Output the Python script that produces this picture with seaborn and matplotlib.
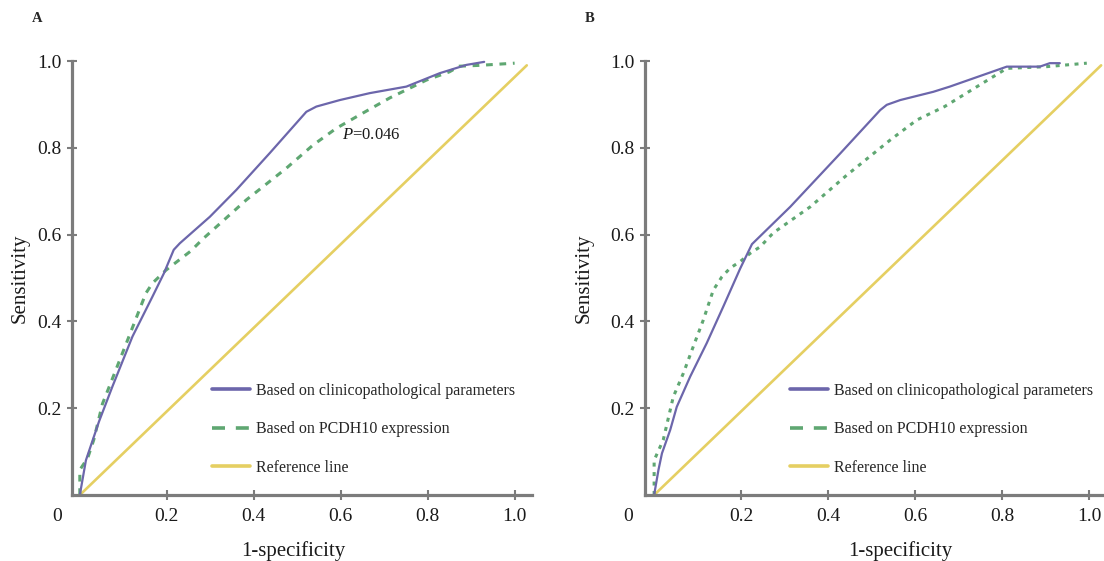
import matplotlib
matplotlib.use("Agg")
import matplotlib.pyplot as plt
from matplotlib.lines import Line2D
import seaborn as sns
import numpy as np

# ---------------- data ----------------
xticks = [0.2, 0.4, 0.6, 0.8, 1.0]
xtick_labels = ["0.2", "0.4", "0.6", "0.8", "1.0"]
yticks = [0.2, 0.4, 0.6, 0.8, 1.0]
ytick_labels = ["0.2", "0.4", "0.6", "0.8", "1.0"]

series_names = ["Based on clinicopathological parameters",
                "Based on PCDH10 expression",
                "Reference line"]

# Panel A
a_clin_x = [0.0, 0.014, 0.044, 0.075, 0.121, 0.167, 0.193, 0.216, 0.23, 0.299, 0.36, 0.437,
            0.521, 0.544, 0.598, 0.667, 0.751, 0.828, 0.889, 0.93]
a_clin_y = [0.0, 0.08, 0.169, 0.25, 0.365, 0.457, 0.51, 0.565, 0.58, 0.641, 0.703, 0.788,
            0.883, 0.895, 0.91, 0.926, 0.941, 0.972, 0.991, 0.998]
a_pcdh_x = [0.0, 0.0, 0.018, 0.032, 0.052, 0.071, 0.113, 0.152, 0.167, 0.198, 0.22, 0.255,
            0.283, 0.383, 0.475, 0.536, 0.59, 0.651, 0.713, 0.797, 0.85, 0.873, 0.92, 1.0]
a_pcdh_y = [0.0, 0.058, 0.085, 0.127, 0.21, 0.258, 0.365, 0.465, 0.488, 0.518, 0.535, 0.562,
            0.59, 0.68, 0.753, 0.806, 0.845, 0.88, 0.915, 0.956, 0.975, 0.988, 0.99, 0.995]

# Panel B
b_clin_x = [0.0, 0.01, 0.018, 0.037, 0.052, 0.083, 0.121, 0.159, 0.198, 0.225, 0.313, 0.428,
            0.52, 0.535, 0.566, 0.642, 0.68, 0.811, 0.887, 0.91, 0.933]
b_clin_y = [0.0, 0.058, 0.096, 0.15, 0.203, 0.273, 0.35, 0.434, 0.522, 0.578, 0.664, 0.787,
            0.887, 0.899, 0.91, 0.929, 0.941, 0.987, 0.987, 0.995, 0.995]
b_pcdh_x = [0.0, 0.0, 0.021, 0.044, 0.067, 0.09, 0.113, 0.136, 0.156, 0.175, 0.198, 0.221,
            0.244, 0.274, 0.359, 0.443, 0.543, 0.604, 0.668, 0.78, 0.811, 0.903, 0.995]
b_pcdh_y = [0.0, 0.08, 0.127, 0.226, 0.28, 0.342, 0.403, 0.472, 0.503, 0.523, 0.538, 0.557,
            0.572, 0.604, 0.664, 0.737, 0.818, 0.864, 0.895, 0.964, 0.983, 0.987, 0.995]

ref_x = [0.0, 1.028]
ref_y = [0.0, 0.99]

p_text = "$P$=0.046"

# ---------------- style ----------------
sns.set_theme(style="white")
plt.rcParams["font.family"] = ["Liberation Serif", "DejaVu Serif"]
plt.rcParams["mathtext.fontset"] = "custom"
plt.rcParams["mathtext.rm"] = "Liberation Serif"
plt.rcParams["mathtext.it"] = "Liberation Serif:italic"

C_PURPLE = "#6c66ab"
C_GREEN = "#5fa772"
C_YELLOW = "#e5cf62"
C_SPINE = "#7c7c7c"

fig = plt.figure(figsize=(11.04, 5.61), dpi=100)

W, H = 1104.0, 561.0
axA = fig.add_axes([72 / W, 1 - 495 / H, 460 / W, 434 / H])
axB = fig.add_axes([645 / W, 1 - 495 / H, 457 / W, 434 / H])


def style_axes(ax, xmin, xmax, zero_x):
    ax.set_xlim(xmin, xmax)
    ax.set_ylim(0, 1.0)
    for s in ["top", "right"]:
        ax.spines[s].set_visible(False)
    for s in ["left", "bottom"]:
        ax.spines[s].set_color(C_SPINE)
        ax.spines[s].set_linewidth(2.3)
    ax.set_xticks(xticks)
    ax.set_xticklabels(xtick_labels)
    ax.set_yticks(yticks)
    ax.set_yticklabels(ytick_labels)
    ax.tick_params(axis="both", direction="inout", length=7, width=1.5,
                   color=C_SPINE, labelsize=14, labelcolor="#1a1a1a",
                   bottom=True, left=True, top=False, right=False)
    ax.tick_params(axis="x", pad=6)
    ax.tick_params(axis="y", pad=4)
    ax.annotate("0", xy=(zero_x, 0), xycoords="data", xytext=(0, -9.5),
                textcoords="offset points", ha="center", va="top",
                fontsize=14, color="#1a1a1a", annotation_clip=False)
    ax.grid(False)


def draw_panel(ax, cx, cy, px, py, dash):
    sns.lineplot(x=ref_x, y=ref_y, ax=ax, color=C_YELLOW, lw=1.9, sort=False,
                 estimator=None, clip_on=False, legend=False)
    sns.lineplot(x=px, y=py, ax=ax, color=C_GREEN, lw=2.2, sort=False,
                 estimator=None, clip_on=False, legend=False,
                 linestyle=(0, dash))
    sns.lineplot(x=cx, y=cy, ax=ax, color=C_PURPLE, lw=1.6, sort=False,
                 estimator=None, clip_on=False, legend=False)


draw_panel(axA, a_clin_x, a_clin_y, a_pcdh_x, a_pcdh_y, (2.2, 2.2))
draw_panel(axB, b_clin_x, b_clin_y, b_pcdh_x, b_pcdh_y, (1.3, 1.8))

style_axes(axA, -0.018, 1.04, -0.053)
style_axes(axB, -0.021, 1.03, -0.06)

for ax, lx, xl_x in [(axA, -0.093, 0.48), (axB, -0.112, 0.558)]:
    ax.set_ylabel("Sensitivity", fontsize=15, color="#1a1a1a")
    ax.yaxis.set_label_coords(lx, 0.5)
    ax.set_xlabel("1-specificity", fontsize=15, color="#1a1a1a")
    ax.xaxis.set_label_coords(xl_x, -0.106)

axA.text(0.602, 0.829, p_text, fontsize=12, ha="left", va="center", color="#1a1a1a")

handles = [
    Line2D([], [], color=C_PURPLE, lw=2.6),
    Line2D([], [], color=C_GREEN, lw=2.6, linestyle=(0, (3.6, 3.0))),
    Line2D([], [], color=C_YELLOW, lw=2.6),
]
for ax, bx in [(axA, 0.304), (axB, 0.317)]:
    ax.legend(handles, series_names, loc="upper left", bbox_to_anchor=(bx, 0.258),
              frameon=False, fontsize=11.5, handlelength=2.4, handletextpad=0.35,
              labelspacing=1.4, borderpad=0, borderaxespad=0)

fig.text(37 / W, 1 - 18 / H, "A", fontsize=10.5, fontweight="bold", ha="center", va="center")
fig.text(590 / W, 1 - 18 / H, "B", fontsize=10.5, fontweight="bold", ha="center", va="center")

fig.savefig("out.png", dpi=100)
